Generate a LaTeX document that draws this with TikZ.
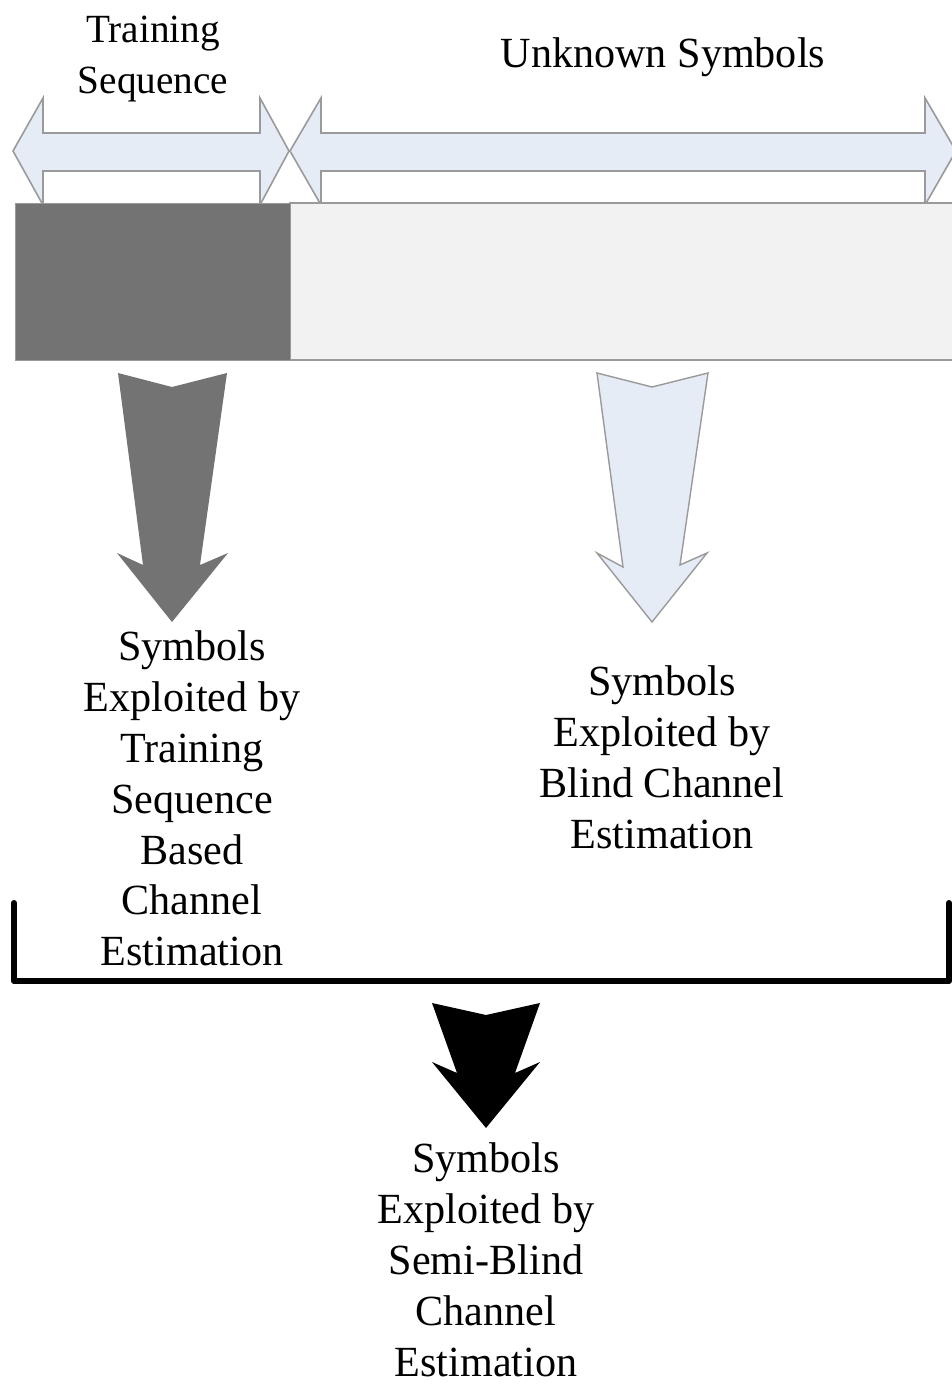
\documentclass[tikz,border=0pt]{standalone}
\usepackage{fontspec}
\setmainfont{Liberation Serif}[FakeStretch=0.98]
\begin{document}
\begin{tikzpicture}[x=1pt,y=-1pt,
  lbl/.style={inner sep=0pt,outer sep=0pt,align=center,anchor=north,
    font=\fontsize{43}{50.8}\selectfont},
  lightfill/.style={fill=arrowblue,draw=edgegray,line width=1.6pt,line join=miter},
]
\definecolor{arrowblue}{HTML}{E6ECF6}
\definecolor{edgegray}{HTML}{9A9A9A}
\definecolor{darkgray}{HTML}{737373}
\definecolor{barlight}{HTML}{F2F2F2}
\useasboundingbox (0,0) rectangle (952,1384);
\fill[white] (0,0) rectangle (952,1384);
\begin{scope}
\clip (0,0) rectangle (952,1384);
% double arrow: training sequence
\draw[lightfill] (13,151) -- (43,98) -- (43,133) -- (260,133) -- (260,98) -- (289,151)
  -- (260,205) -- (260,171) -- (43,171) -- (43,205) -- cycle;
% double arrow: unknown symbols
\draw[lightfill] (290,151) -- (321,98) -- (321,133) -- (925,133) -- (925,98) -- (956,151)
  -- (925,205) -- (925,171) -- (321,171) -- (321,205) -- cycle;
% frame bar
\draw[fill=barlight,draw=edgegray,line width=1.4pt] (290,203) rectangle (960,360);
\fill[darkgray] (15,203) rectangle (290,360);
\draw[edgegray,line width=1pt] (15,203) rectangle (290,360);
% bracket
\draw[line width=6pt,line cap=round,line join=round] (14,903) -- (14,981) -- (949,981) -- (949,903);
\end{scope}
% down arrows
\fill[darkgray] (118,373) -- (172,387) -- (227,373) -- (200,565) -- (228,553) -- (172,622)
  -- (117,553) -- (143,565) -- cycle;
\draw[lightfill,line width=1.4pt] (597,373) -- (652,387) -- (708,373) -- (680,565) -- (707,553) -- (652,622)
  -- (597,553) -- (623,567) -- cycle;
\fill[black] (432,1003) -- (486,1015) -- (540,1003) -- (515,1073) -- (540,1062) -- (486,1128)
  -- (432,1062) -- (457,1073) -- cycle;
% labels
\node[lbl,font=\fontsize{40}{50.8}\selectfont] (ts) at (153,16) {Training\\Sequence};
\node[lbl] (us) at (663,38) {Unknown Symbols};
\node[lbl] (tl) at (192,631) {Symbols\\Exploited by\\Training\\Sequence\\Based\\Channel\\Estimation};
\node[lbl] (bl) at (662,666) {Symbols\\Exploited by\\Blind Channel\\Estimation};
\node[lbl] (sb) at (486,1143) {Symbols\\Exploited by\\Semi-Blind\\Channel\\Estimation};
\end{tikzpicture}
\end{document}
